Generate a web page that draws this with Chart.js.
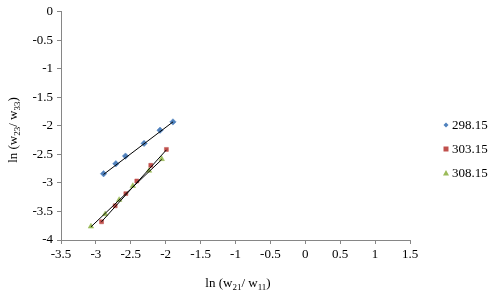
<!DOCTYPE html>
<html>
<head>
<meta charset="utf-8">
<script src="https://cdn.jsdelivr.net/npm/chart.js@4.4.0/dist/chart.umd.min.js"></script>
<style>
  html, body { margin: 0; padding: 0; background: #fff; }
  canvas { display: block; }
</style>
</head>
<body>
<canvas id="myChart" width="500" height="295"></canvas>
<script>
// temperatures (K) for each series
const seriesNames = ['298.15', '303.15', '308.15'];
const seriesColors = ['#4F81BD', '#C0504D', '#9BBB59'];
const seriesShapes = ['rectRot', 'rect', 'triangle'];

// ln(w21/w11) values
const x298 = [-2.890, -2.714, -2.576, -2.310, -2.081, -1.896];
const x303 = [-2.919, -2.724, -2.571, -2.414, -2.214, -1.990];
const x308 = [-3.071, -2.867, -2.667, -2.471, -2.239, -2.057];

// ln(w23/w33) values
const y298 = [-2.838, -2.663, -2.529, -2.307, -2.075, -1.930];
const y303 = [-3.681, -3.401, -3.187, -2.965, -2.691, -2.412];
const y308 = [-3.763, -3.546, -3.297, -3.052, -2.785, -2.581];

// trend line end points (x0, x1, y0, y1)
const trend298 = [-2.890, -1.896, -2.850, -1.930];
const trend303 = [-2.919, -1.990, -3.680, -2.420];
const trend308 = [-3.071, -2.057, -3.770, -2.590];

const xTicks = { min: -3.5, max: 1.5, step: 0.5 };
const yTicks = { min: -4, max: 0, step: 0.5 };

const FONT = "'Liberation Serif', 'Times New Roman', serif";
Chart.defaults.font.family = FONT;
Chart.defaults.font.size = 12;
Chart.defaults.color = '#000';

function pts(xs, ys) {
  return xs.map((x, i) => ({ x: x, y: ys[i] }));
}
function trendPts(t) {
  return [{ x: t[0], y: t[2] }, { x: t[1], y: t[3] }];
}

const xs = [x298, x303, x308];
const ys = [y298, y303, y308];
const trends = [trend298, trend303, trend308];

var datasets = [];
for (let i = 0; i < 3; i++) {
  datasets.push({
    label: seriesNames[i],
    data: pts(xs[i], ys[i]),
    showLine: false,
    pointStyle: seriesShapes[i],
    pointRadius: i == 1 ? 2.8 : 3.2,
    pointBackgroundColor: seriesColors[i],
    pointBorderColor: seriesColors[i],
    pointBorderWidth: 0.5,
    order: 1,
  });
}
for (let i = 0; i < 3; i++) {
  datasets.push({
    label: 'trend ' + seriesNames[i],
    data: trendPts(trends[i]),
    showLine: true,
    borderColor: '#000',
    borderWidth: 1,
    pointRadius: 0,
    order: 0,
  });
}

// draws text with subscripts, parts = [[text, isSub], ...]
function drawSubText(ctx, parts, cx, cy, size) {
  const subSize = Math.round(size * 0.68);
  let w = 0;
  parts.forEach(p => {
    ctx.font = (p[1] ? subSize : size) + 'px ' + FONT;
    w += ctx.measureText(p[0]).width;
  });
  let x = cx - w / 2;
  parts.forEach(p => {
    ctx.font = (p[1] ? subSize : size) + 'px ' + FONT;
    ctx.fillText(p[0], x, cy + (p[1] ? size * 0.3 : 0));
    x += ctx.measureText(p[0]).width;
  });
}

const extras = {
  id: 'extras',
  afterDraw(chart) {
    const ctx = chart.ctx;
    ctx.save();
    ctx.fillStyle = '#000';
    ctx.textBaseline = 'middle';
    ctx.textAlign = 'left';

    // x axis title
    drawSubText(ctx, [['ln (w', false], ['21', true], ['/ w', false], ['11', true], [')', false]], 238, 284, 13);

    // y axis title (rotated)
    ctx.save();
    ctx.translate(14, 130);
    ctx.rotate(-Math.PI / 2);
    drawSubText(ctx, [['ln (w', false], ['23', true], ['/ w', false], ['33', true], [')', false]], 0, 0, 13);
    ctx.restore();

    // legend
    const ly = [125, 149, 173];
    for (let i = 0; i < 3; i++) {
      const mx = 446, my = ly[i];
      ctx.fillStyle = seriesColors[i];
      ctx.beginPath();
      if (i == 0) {
        ctx.moveTo(mx, my - 2.5); ctx.lineTo(mx + 2.5, my); ctx.lineTo(mx, my + 2.5); ctx.lineTo(mx - 2.5, my);
      } else if (i == 1) {
        ctx.rect(mx - 2.5, my - 2.5, 5, 5);
      } else {
        ctx.moveTo(mx, my - 3); ctx.lineTo(mx + 3, my + 2.5); ctx.lineTo(mx - 3, my + 2.5);
      }
      ctx.closePath();
      ctx.fill();
      ctx.fillStyle = '#000';
      ctx.font = '13px ' + FONT;
      ctx.fillText(seriesNames[i], 452, my + 0.5);
    }
    ctx.restore();
  }
};

const axisColor = '#868686';
const tickFont = { family: FONT, size: 13 };

const myChart = new Chart(document.getElementById('myChart').getContext('2d'), {
  type: 'scatter',
  data: { datasets: datasets },
  options: {
    responsive: false,
    animation: false,
    layout: { padding: { top: 11, right: 90, left: 0, bottom: 0 } },
    plugins: {
      legend: { display: false },
      tooltip: { enabled: false },
    },
    scales: {
      x: {
        type: 'linear',
        min: xTicks.min,
        max: xTicks.max,
        border: { color: axisColor, width: 1 },
        grid: { display: true, drawOnChartArea: false, drawTicks: true, tickLength: 4, color: axisColor },
        ticks: { stepSize: xTicks.step, color: '#000', padding: 3, font: tickFont, callback: v => String(v) },
        afterFit(scale) { scale.height = 55; },
      },
      y: {
        type: 'linear',
        min: yTicks.min,
        max: yTicks.max,
        border: { color: axisColor, width: 1 },
        grid: { display: true, drawOnChartArea: false, drawTicks: true, tickLength: 4, color: axisColor },
        ticks: { stepSize: yTicks.step, color: '#000', padding: 4, font: tickFont, callback: v => String(v) },
        afterFit(scale) { scale.width = 61; },
      },
    },
  },
  plugins: [extras],
});
</script>
</body>
</html>
